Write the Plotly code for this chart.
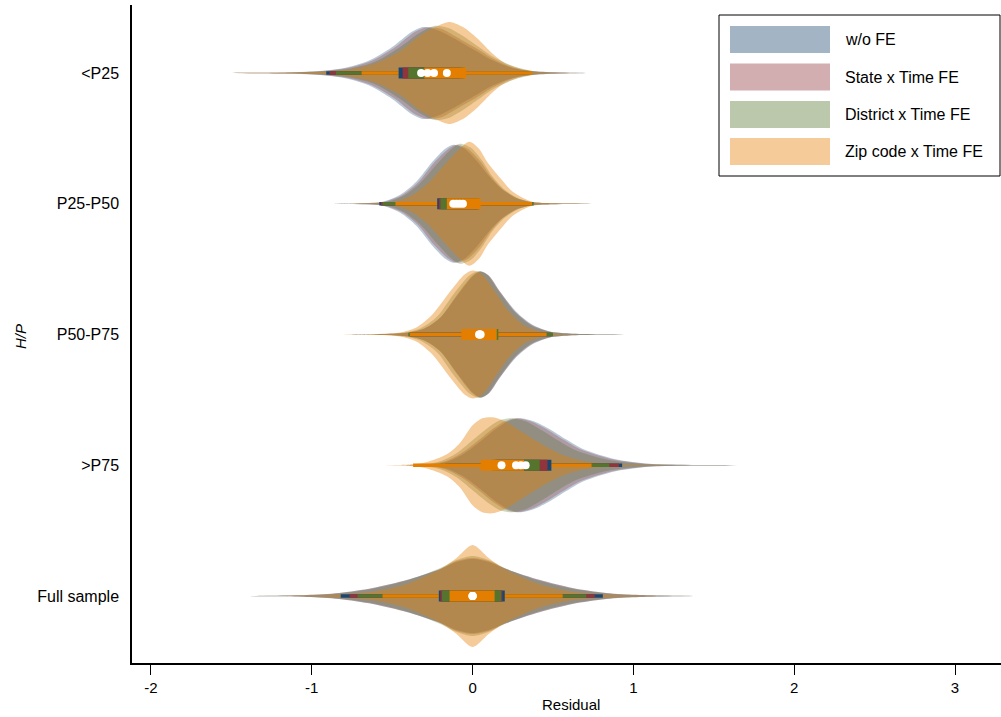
import plotly.graph_objects as go

# ---------------- data ----------------
categories = ["<P25", "P25-P50", "P50-P75", ">P75", "Full sample"]
cat_pos = [5, 4, 3, 2, 1]
series_names = ["w/o FE", "State x Time FE", "District x Time FE", "Zip code x Time FE"]

# density outlines (residual grid, density in arbitrary units) per category
wofe_x = [
    [-1.55, -1.2, -0.95, -0.8, -0.65, -0.5, -0.38, -0.31, -0.22, -0.12, 0.0, 0.12, 0.25, 0.4, 0.75],
    [-0.9, -0.7, -0.56, -0.45, -0.35, -0.25, -0.17, -0.12, -0.05, 0.03, 0.1, 0.18, 0.27, 0.36, 0.5, 0.85],
    [-0.8, -0.55, -0.4, -0.3, -0.2, -0.1, 0.0, 0.05, 0.1, 0.17, 0.27, 0.37, 0.48, 0.6, 0.79, 1.15],
    [-0.4, -0.25, -0.15, -0.05, 0.05, 0.15, 0.22, 0.29, 0.38, 0.48, 0.58, 0.69, 0.89, 1.1, 1.3, 1.9],
    [-1.45, -1.24, -1.03, -0.83, -0.62, -0.41, -0.2, -0.1, 0.0, 0.1, 0.21, 0.42, 0.62, 0.83, 1.04, 1.45],
]
wofe_d = [
    [0, 0.5, 2, 5, 12, 26, 41, 46, 43, 35, 24, 13, 5, 1.5, 0],
    [0, 0.5, 2, 9, 22, 42, 55, 59, 55, 42, 28, 15, 6, 2, 0.5, 0],
    [0, 0.5, 2, 6, 17, 38, 58, 63, 59, 43, 23, 10, 3, 1, 0.3, 0],
    [0, 1, 4, 12, 24, 37, 44, 47, 44, 36, 26, 16, 6, 1.5, 0.5, 0],
    [0, 0.3, 1, 3, 8, 16, 27, 34, 37, 34, 27, 16, 8, 3, 1, 0],
]
state_x = [
    [-1.5, -1.15, -0.93, -0.78, -0.63, -0.48, -0.36, -0.28, -0.19, -0.1, 0.02, 0.13, 0.26, 0.4, 0.75],
    [-0.88, -0.68, -0.55, -0.44, -0.34, -0.24, -0.15, -0.10, -0.03, 0.05, 0.11, 0.19, 0.28, 0.37, 0.5, 0.86],
    [-0.8, -0.55, -0.4, -0.3, -0.2, -0.1, 0.0, 0.045, 0.1, 0.17, 0.27, 0.37, 0.48, 0.6, 0.79, 1.15],
    [-0.42, -0.27, -0.17, -0.07, 0.03, 0.13, 0.2, 0.27, 0.36, 0.46, 0.56, 0.67, 0.87, 1.08, 1.28, 1.88],
    [-1.45, -1.24, -1.03, -0.83, -0.62, -0.41, -0.2, -0.1, 0.0, 0.1, 0.21, 0.42, 0.62, 0.83, 1.04, 1.45],
]
state_d = [
    [0, 0.5, 2, 5, 12, 26, 41, 46, 44, 36, 25, 14, 5, 1.5, 0],
    [0, 0.5, 2, 8.5, 21, 41, 55, 59, 55, 42, 28, 14, 5, 1.5, 0.5, 0],
    [0, 0.5, 2, 6, 17, 39, 59, 63, 59, 43, 22, 9.5, 3, 1, 0.3, 0],
    [0, 1, 4, 12, 24, 37, 44, 47, 44, 36, 26, 16, 6, 1.5, 0.5, 0],
    [0, 0.3, 1, 3, 8, 16, 27, 35, 38, 35, 27, 16, 8, 3, 1, 0],
]
district_x = [
    [-1.5, -1.12, -0.92, -0.76, -0.61, -0.46, -0.33, -0.24, -0.15, -0.07, 0.03, 0.14, 0.27, 0.4, 0.76],
    [-0.86, -0.66, -0.53, -0.43, -0.33, -0.22, -0.13, -0.08, -0.01, 0.06, 0.12, 0.2, 0.29, 0.37, 0.5, 0.87],
    [-0.82, -0.57, -0.42, -0.32, -0.22, -0.12, -0.02, 0.04, 0.09, 0.16, 0.26, 0.36, 0.47, 0.6, 0.79, 1.1],
    [-0.45, -0.3, -0.2, -0.1, 0.0, 0.1, 0.17, 0.24, 0.33, 0.43, 0.53, 0.64, 0.84, 1.05, 1.25, 1.85],
    [-1.4, -1.2, -1.0, -0.8, -0.6, -0.4, -0.2, -0.1, 0.0, 0.1, 0.2, 0.4, 0.6, 0.8, 1.0, 1.4],
]
district_d = [
    [0, 0.5, 2, 4.5, 11, 25, 40, 47, 45, 38, 27, 15, 6, 1.5, 0],
    [0, 0.5, 2, 8, 20, 40, 55, 60, 56, 43, 28, 14, 5, 1.5, 0.5, 0],
    [0, 0.5, 2, 6.5, 18, 40, 59, 63.5, 60, 44, 23, 9.5, 3, 1, 0.3, 0],
    [0, 1, 4, 12, 25, 38, 45, 47, 44, 35, 25, 15, 5.5, 1.5, 0.5, 0],
    [0, 0.3, 1, 3, 8, 16, 28, 36, 40, 36, 28, 16, 8, 3, 1, 0],
]
zip_x = [
    [-1.5, -1.1, -0.9, -0.75, -0.6, -0.45, -0.33, -0.22, -0.14, -0.05, 0.04, 0.12, 0.2, 0.3, 0.4, 0.77],
    [-0.8, -0.6, -0.48, -0.38, -0.28, -0.18, -0.08, -0.02, 0.04, 0.09, 0.17, 0.25, 0.37, 0.5, 0.9],
    [-0.85, -0.6, -0.45, -0.35, -0.25, -0.14, -0.05, 0.0, 0.06, 0.13, 0.22, 0.32, 0.42, 0.55, 0.8],
    [-0.6, -0.45, -0.37, -0.29, -0.16, -0.08, 0.0, 0.06, 0.125, 0.2, 0.3, 0.42, 0.55, 0.7, 0.9, 1.3],
    [-1.2, -0.9, -0.62, -0.41, -0.2, -0.1, 0.0, 0.1, 0.2, 0.41, 0.62, 0.9, 1.2],
]
zip_d = [
    [0, 0.5, 1.5, 4, 10, 22, 37, 47, 51, 45, 33, 20, 10, 4, 1, 0],
    [0, 0.5, 2, 8, 20, 38, 55, 62, 55, 42, 26, 12, 2, 0.5, 0],
    [0, 0.5, 2, 7, 20, 43, 60, 64, 60, 45, 24, 9, 3, 0.5, 0],
    [0, 0.3, 1, 3, 11, 22, 40, 47, 48, 44, 34, 22, 11, 4, 1, 0],
    [0, 1, 4, 12, 27, 38, 51, 38, 27, 12, 4, 1, 0],
]

# box statistics per category
wofe_q1 = [-0.46, -0.22, -0.06, 0.15, -0.21]
wofe_med = [-0.32, -0.12, 0.05, 0.33, 0.0]
wofe_q3 = [-0.08, 0.03, 0.15, 0.49, 0.20]
wofe_lo = [-0.91, -0.58, -0.39, -0.15, -0.82]
wofe_hi = [0.33, 0.35, 0.49, 0.93, 0.81]

state_q1 = [-0.435, -0.21, -0.06, 0.14, -0.20]
state_med = [-0.28, -0.10, 0.045, 0.30, 0.0]
state_q3 = [-0.06, 0.04, 0.15, 0.466, 0.185]
state_lo = [-0.89, -0.57, -0.39, -0.17, -0.765]
state_hi = [0.35, 0.36, 0.49, 0.91, 0.76]

district_q1 = [-0.40, -0.20, -0.065, 0.12, -0.19]
district_med = [-0.24, -0.08, 0.045, 0.27, 0.0]
district_q3 = [-0.05, 0.045, 0.16, 0.417, 0.178]
district_lo = [-0.85, -0.56, -0.40, -0.20, -0.715]
district_hi = [0.36, 0.38, 0.50, 0.85, 0.707]

zip_q1 = [-0.30, -0.16, -0.07, 0.05, -0.143]
zip_med = [-0.16, -0.06, 0.04, 0.18, 0.0]
zip_q3 = [-0.04, 0.05, 0.15, 0.32, 0.137]
zip_lo = [-0.69, -0.48, -0.39, -0.37, -0.56]
zip_hi = [0.37, 0.37, 0.46, 0.74, 0.56]

x_tickvals = [-2, -1, 0, 1, 2, 3]
x_ticktext = ["-2", "-1", "0", "1", "2", "3"]

# ---------------- style ----------------
colors = [(26, 71, 111), (144, 53, 59), (85, 117, 47), (227, 126, 0)]
violin_alpha = [0.3, 0.3, 0.3, 0.4]
legend_alpha = 0.4
DENSITY_SCALE = 1 / 130.75   # density units -> category units
FONT = "Liberation Sans, Arial, sans-serif"
FS = 16

all_x = [wofe_x, state_x, district_x, zip_x]
all_d = [wofe_d, state_d, district_d, zip_d]
all_box = [
    (wofe_q1, wofe_med, wofe_q3, wofe_lo, wofe_hi),
    (state_q1, state_med, state_q3, state_lo, state_hi),
    (district_q1, district_med, district_q3, district_lo, district_hi),
    (zip_q1, zip_med, zip_q3, zip_lo, zip_hi),
]

fig = go.Figure()

# violins
for s, (xs_list, ds_list) in enumerate(zip(all_x, all_d)):
    r, g, b = colors[s]
    for c, pos in enumerate(cat_pos):
        xs = xs_list[c]
        ds = ds_list[c]
        upper = [pos + d * DENSITY_SCALE for d in ds]
        lower = [pos - d * DENSITY_SCALE for d in ds]
        fig.add_trace(go.Scatter(
            x=xs + xs[::-1],
            y=upper + lower[::-1],
            mode="lines",
            fill="toself",
            fillcolor=f"rgba({r},{g},{b},{violin_alpha[s]})",
            line=dict(width=0, shape="spline", smoothing=0.8),
            hoverinfo="skip",
            showlegend=False,
        ))


def segments(starts, ends):
    xs, ys = [], []
    for a, b_, p in zip(starts, ends, cat_pos):
        xs += [a, b_, None]
        ys += [p, p, None]
    return xs, ys


# whiskers
for s, (q1, med, q3, lo, hi) in enumerate(all_box):
    r, g, b = colors[s]
    xs, ys = segments(lo, hi)
    fig.add_trace(go.Scatter(x=xs, y=ys, mode="lines",
                             line=dict(color=f"rgb({r},{g},{b})", width=3.5),
                             hoverinfo="skip", showlegend=False))

# boxes (interquartile range)
for s, (q1, med, q3, lo, hi) in enumerate(all_box):
    r, g, b = colors[s]
    xs, ys = segments(q1, q3)
    fig.add_trace(go.Scatter(x=xs, y=ys, mode="lines",
                             line=dict(color=f"rgb({r},{g},{b})", width=11),
                             hoverinfo="skip", showlegend=False))

# medians
for s, (q1, med, q3, lo, hi) in enumerate(all_box):
    fig.add_trace(go.Scatter(
        x=med, y=cat_pos, mode="markers",
        marker=dict(color="white", size=8, line=dict(width=0)),
        showlegend=False, hoverinfo="skip",
    ))

# ---------------- layout ----------------
L, R, T, B = 132, 0, 5, 54
W, H = 1001, 717
pw, ph = W - L - R, H - T - B


def px_x(p):
    return (p - L) / pw


def px_y(p):
    return (H - B - p) / ph


shapes = [dict(type="rect", xref="paper", yref="paper",
               x0=px_x(719), x1=px_x(1000), y0=px_y(176), y1=px_y(15),
               line=dict(color="black", width=1), fillcolor="white", layer="above")]
annotations = []
sw_top = [26, 63.5, 101, 138]
for s, name in enumerate(series_names):
    r, g, b = colors[s]
    shapes.append(dict(type="rect", xref="paper", yref="paper",
                       x0=px_x(730), x1=px_x(830), y0=px_y(sw_top[s] + 27), y1=px_y(sw_top[s]),
                       line=dict(width=0), fillcolor=f"rgba({r},{g},{b},{legend_alpha})", layer="above"))
    annotations.append(dict(xref="paper", yref="paper", x=px_x(843), y=px_y(sw_top[s] + 13.5),
                            text=name, showarrow=False, xanchor="left", yanchor="middle",
                            font=dict(family=FONT, size=FS, color="black")))

annotations.append(dict(xref="paper", yref="paper", x=px_x(571), y=px_y(704),
                        text="Residual", showarrow=False, xanchor="center", yanchor="middle",
                        font=dict(family=FONT, size=FS - 1, color="black")))
annotations.append(dict(xref="paper", yref="paper", x=px_x(20), y=px_y(336),
                        text="<i>H/P</i>", showarrow=False, xanchor="center", yanchor="middle",
                        textangle=-90, font=dict(family=FONT, size=15, color="black")))

fig.update_layout(
    width=W, height=H,
    margin=dict(l=L, r=R, t=T, b=B, pad=0),
    paper_bgcolor="white", plot_bgcolor="white",
    showlegend=False,
    shapes=shapes,
    annotations=annotations,
    font=dict(family=FONT, size=FS, color="black"),
    xaxis=dict(range=[-2.118, 3.286], tickvals=x_tickvals, ticktext=x_ticktext,
               showgrid=False, zeroline=False, showline=True, linecolor="black", linewidth=1.5,
               ticks="outside", ticklen=10, tickwidth=1, tickcolor="black",
               tickfont=dict(family=FONT, size=FS - 1, color="black")),
    yaxis=dict(range=[0.488, 5.52], tickvals=cat_pos, ticktext=categories,
               showgrid=False, zeroline=False, showline=True, linecolor="black", linewidth=1.5,
               ticks="outside", ticklen=8, tickcolor="rgba(0,0,0,0)",
               tickfont=dict(family=FONT, size=FS, color="black")),
)

fig.write_html("out.html")
